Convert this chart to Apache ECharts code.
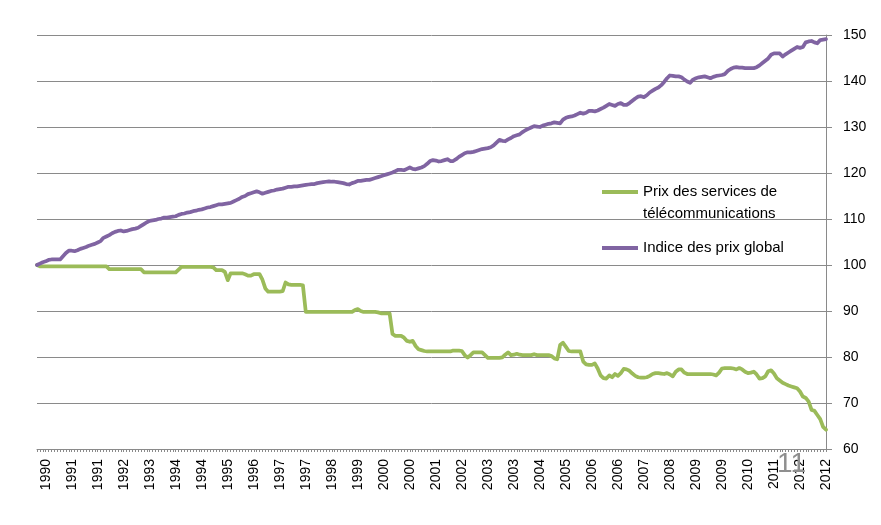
<!DOCTYPE html>
<html>
<head>
<meta charset="utf-8">
<script src="https://cdn.jsdelivr.net/npm/echarts@6/dist/echarts.min.js"></script>
<style>
html,body{margin:0;padding:0;background:#fff;}
#chart{width:881px;height:525px;}
</style>
</head>
<body>
<div id="chart"></div>
<script>
// Monthly observations, January 1990 to October 2012 (274 months)
const startYear = 1990;
const monthCount = 274;

// Prix des services de télécommunications (index, Jan 1990 = 100)
const telecom = [
  // 1990
  100, 99.7, 99.7, 99.7, 99.7, 99.7, 99.7, 99.7, 99.7, 99.7, 99.7, 99.7,
  // 1991
  99.7, 99.7, 99.7, 99.7, 99.7, 99.7, 99.7, 99.7, 99.7, 99.7, 99.7, 99.7,
  // 1992
  99.7, 99.1, 99.1, 99.1, 99.1, 99.1, 99.1, 99.1, 99.1, 99.1, 99.1, 99.1,
  // 1993
  99.1, 98.4, 98.4, 98.4, 98.4, 98.4, 98.4, 98.4, 98.4, 98.4, 98.4, 98.4,
  // 1994
  98.4, 99.0, 99.6, 99.6, 99.6, 99.6, 99.6, 99.6, 99.6, 99.6, 99.6, 99.6,
  // 1995
  99.6, 99.5, 98.9, 98.9, 98.9, 98.5, 96.7, 98.2, 98.2, 98.2, 98.2, 98.2,
  // 1996
  98.0, 97.7, 97.7, 98.0, 98.0, 98.0, 96.8, 94.9, 94.2, 94.2, 94.2, 94.2,
  // 1997
  94.2, 94.3, 96.2, 95.8, 95.7, 95.7, 95.7, 95.7, 95.6, 89.8, 89.8, 89.8,
  // 1998
  89.8, 89.8, 89.8, 89.8, 89.8, 89.8, 89.8, 89.8, 89.8, 89.8, 89.8, 89.8,
  // 1999
  89.8, 89.8, 90.2, 90.4, 90.0, 89.8, 89.8, 89.8, 89.8, 89.8, 89.7, 89.5,
  // 2000
  89.5, 89.5, 89.5, 85.0, 84.6, 84.6, 84.6, 84.2, 83.5, 83.3, 83.5, 82.4,
  // 2001
  81.7, 81.5, 81.3, 81.2, 81.2, 81.2, 81.2, 81.2, 81.2, 81.2, 81.2, 81.2,
  // 2002
  81.4, 81.4, 81.4, 81.3, 80.4, 79.9, 80.4, 81.0, 81.0, 81.0, 81.0, 80.4,
  // 2003
  79.8, 79.8, 79.8, 79.8, 79.8, 79.9, 80.5, 81.0, 80.4, 80.5, 80.7, 80.5,
  // 2004
  80.4, 80.4, 80.4, 80.4, 80.6, 80.4, 80.4, 80.4, 80.4, 80.4, 80.2, 79.7,
  // 2005
  79.5, 82.6, 83.1, 82.2, 81.3, 81.2, 81.2, 81.2, 81.2, 79.0, 78.4, 78.3,
  // 2006
  78.3, 78.6, 77.5, 76.0, 75.4, 75.3, 76.0, 75.6, 76.3, 75.9, 76.5, 77.4,
  // 2007
  77.3, 77.0, 76.4, 75.9, 75.6, 75.5, 75.5, 75.6, 75.9, 76.3, 76.5, 76.5,
  // 2008
  76.4, 76.3, 76.5, 76.2, 75.8, 76.8, 77.3, 77.3, 76.6, 76.3, 76.3, 76.3,
  // 2009
  76.3, 76.3, 76.3, 76.3, 76.3, 76.3, 76.2, 76.0, 76.6, 77.5, 77.6, 77.6,
  // 2010
  77.6, 77.5, 77.3, 77.6, 77.3, 76.8, 76.5, 76.6, 76.8, 76.2, 75.3, 75.4,
  // 2011
  75.8, 76.9, 77.1, 76.4, 75.4, 74.9, 74.4, 74.1, 73.8, 73.6, 73.4, 73.2,
  // 2012
  72.5, 71.4, 71.1, 70.3, 68.5, 68.3, 67.4, 66.5, 64.8, 64.2
];

// Indice des prix global (index, Jan 1990 = 100)
const cpi = [
  // 1990
  100, 100.3, 100.6, 100.8, 101.1, 101.2, 101.2, 101.2, 101.2, 101.9, 102.6, 103.1,
  // 1991
  103.1, 103.0, 103.2, 103.5, 103.7, 103.9, 104.2, 104.4, 104.6, 104.9, 105.2, 105.9,
  // 1992
  106.2, 106.5, 106.9, 107.2, 107.4, 107.5, 107.3, 107.4, 107.6, 107.8, 107.9, 108.1,
  // 1993
  108.5, 108.9, 109.3, 109.6, 109.7, 109.8, 110.0, 110.1, 110.3, 110.3, 110.4, 110.5,
  // 1994
  110.6, 110.9, 111.1, 111.2, 111.4, 111.5, 111.7, 111.8, 112.0, 112.1, 112.3, 112.5,
  // 1995
  112.6, 112.8, 113.0, 113.2, 113.2, 113.3, 113.4, 113.5, 113.8, 114.1, 114.4, 114.8,
  // 1996
  115.0, 115.4, 115.6, 115.8, 116.0, 115.8, 115.5, 115.7, 115.9, 116.1, 116.2, 116.4,
  // 1997
  116.5, 116.6, 116.8, 117.0, 117.0, 117.1, 117.1, 117.2, 117.3, 117.4, 117.5, 117.6,
  // 1998
  117.6, 117.8, 117.9, 118.0, 118.1, 118.2, 118.1, 118.1, 118.0, 117.9, 117.8, 117.6,
  // 1999
  117.5, 117.8, 118.0, 118.3, 118.3, 118.4, 118.5, 118.5, 118.7, 118.9, 119.1, 119.3,
  // 2000
  119.5, 119.7, 119.9, 120.1, 120.4, 120.7, 120.7, 120.6, 120.9, 121.2, 120.9, 120.8,
  // 2001
  121.0, 121.2, 121.5, 122.0, 122.6, 122.8, 122.7, 122.5, 122.6, 122.8, 123.0, 122.6,
  // 2002
  122.6, 123.0, 123.5, 123.9, 124.3, 124.5, 124.5, 124.6, 124.8, 125.0, 125.2, 125.3,
  // 2003
  125.4, 125.6, 126.0, 126.6, 127.2, 127.0, 126.9, 127.3, 127.6, 128.0, 128.2, 128.4,
  // 2004
  128.9, 129.3, 129.6, 129.9, 130.2, 130.1, 130.0, 130.3, 130.5, 130.7, 130.8, 131.0,
  // 2005
  130.9, 130.8, 131.6, 132.0, 132.2, 132.3, 132.5, 132.8, 133.1, 132.9, 133.1, 133.5,
  // 2006
  133.5, 133.4, 133.6, 133.9, 134.2, 134.6, 135.0, 134.8, 134.6, 135.0, 135.2, 134.8,
  // 2007
  134.8, 135.2, 135.7, 136.2, 136.6, 136.7, 136.5, 136.9, 137.5, 137.9, 138.3, 138.6,
  // 2008
  139.1, 139.8, 140.6, 141.2, 141.1, 141.0, 141.0, 140.8, 140.3, 139.9, 139.6, 140.3,
  // 2009
  140.6, 140.8, 140.9, 141.0, 140.8, 140.6, 140.9, 141.1, 141.2, 141.3, 141.5, 142.2,
  // 2010
  142.6, 142.9, 143.0, 142.9, 142.9, 142.8, 142.8, 142.8, 142.8, 143.0, 143.4, 143.9,
  // 2011
  144.4, 144.9, 145.7, 146.0, 146.0, 146.0, 145.3, 145.8, 146.2, 146.6, 147.0, 147.4,
  // 2012
  147.2, 147.4, 148.4, 148.6, 148.7, 148.4, 148.2, 148.9, 149.0, 149.1
];

const seriesNames = ['Prix des services de télécommunications', 'Indice des prix global'];
const yTicks = { min: 60, max: 150, step: 10 };

// month categories "YYYY-MM"
const categories = [];
for (let k = 0; k < monthCount; k++) {
  const y = startYear + Math.floor(k / 12);
  const m = (k % 12) + 1;
  categories.push(y + '-' + (m < 10 ? '0' + m : m));
}

const FONT = 'Liberation Sans';
const gridColor = '#8a8a8a';

const chart = echarts.init(document.getElementById('chart'), null, { renderer: 'canvas' });
chart.setOption({
  backgroundColor: '#ffffff',
  animation: false,
  textStyle: { fontFamily: FONT },
  grid: { left: 37, right: 55, top: 35, bottom: 76, containLabel: false },
  legend: [
    {
      data: [seriesNames[0]],
      left: 602, top: 183, padding: 0,
      icon: 'rect', itemWidth: 36, itemHeight: 4,
      formatter: function () { return 'Prix des services de'; },
      textStyle: { fontFamily: FONT, fontSize: 15, color: '#000', lineHeight: 18 }
    },
    {
      data: [seriesNames[1]],
      left: 602, top: 239, padding: 0,
      icon: 'rect', itemWidth: 36, itemHeight: 4,
      textStyle: { fontFamily: FONT, fontSize: 15, color: '#000', lineHeight: 18 }
    }
  ],
  graphic: [
    {
      type: 'text', left: 643, top: 206, silent: true,
      style: { text: 'télécommunications', fontFamily: FONT, fontSize: 15, fill: '#000' }
    },
    {
      type: 'text', left: 777, top: 450, silent: true, z: 100,
      style: { text: '11', fontFamily: FONT, fontSize: 28, fill: '#8f8f8f' }
    }
  ],
  xAxis: {
    type: 'category',
    data: categories,
    boundaryGap: false,
    axisLine: { show: true, lineStyle: { color: gridColor, width: 1 } },
    axisTick: { show: true, interval: 0, length: 3, lineStyle: { color: gridColor } },
    axisLabel: {
      interval: function (index) { return index % 9 === 3; },
      rotate: 90,
      margin: 10,
      fontFamily: FONT, fontSize: 14, color: '#000',
      formatter: function (v) { return v.slice(0, 4); }
    },
    splitLine: { show: false }
  },
  yAxis: {
    type: 'value',
    position: 'right',
    min: yTicks.min, max: yTicks.max, interval: yTicks.step,
    axisLine: { show: true, lineStyle: { color: gridColor, width: 1 } },
    axisTick: { show: true, length: 6, lineStyle: { color: gridColor } },
    axisLabel: { margin: 17, fontFamily: FONT, fontSize: 14, color: '#000' },
    splitLine: { show: true, lineStyle: { color: gridColor, width: 1 } }
  },
  series: [
    {
      name: seriesNames[0], type: 'line', data: telecom,
      showSymbol: false, symbol: 'none',
      lineStyle: { color: '#9BBB59', width: 3.75, join: 'round', cap: 'round' },
      itemStyle: { color: '#9BBB59' }
    },
    {
      name: seriesNames[1], type: 'line', data: cpi,
      showSymbol: false, symbol: 'none',
      lineStyle: { color: '#8064A2', width: 3.75, join: 'round', cap: 'round' },
      itemStyle: { color: '#8064A2' }
    }
  ]
});
</script>
</body>
</html>
